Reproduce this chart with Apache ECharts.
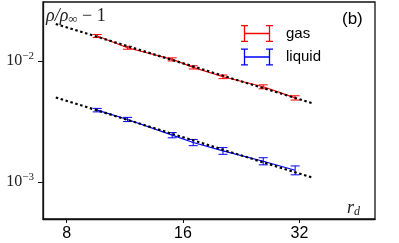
<!DOCTYPE html>
<html><head><meta charset="utf-8">
<script src="https://cdn.jsdelivr.net/npm/echarts@6/dist/echarts.min.js"></script>
<style>html,body{margin:0;padding:0;background:#fff}#c{width:399px;height:243px}</style>
</head><body><div id="c"></div>
<script>
const rd = [9.6, 11.5, 15, 17, 20.3, 25.8, 31.2];
const gasVals = [0.0160, 0.0128, 0.01027, 0.00882, 0.00737, 0.00610, 0.00494];
const gasErr = [0.00045, 0.00035, 0.0003, 0.00027, 0.00025, 0.00023, 0.0002];
const liqVals = [0.003914, 0.003279, 0.002432, 0.002116, 0.001804, 0.001483, 0.001249];
const liqErr = [0.00013, 0.00013, 0.00012, 0.000125, 0.000115, 0.0001, 0.000105];
const fitX = [7.5, 34.7];
const gasFit = [0.0201, 0.00444];
const liqFit = [0.00498, 0.00108];
const xTicks = [8, 16, 32];
const yTicks = [0.001, 0.01];

const chart = echarts.init(document.getElementById('c'), null, {renderer: 'canvas'});
const pts = (xs, ys) => xs.map((x, i) => [x, ys[i]]);
const errData = (vals, errs) => rd.map((x, i) => [x, vals[i], vals[i] - errs[i], vals[i] + errs[i]]);
function errSeries(name, color, vals, errs) {
  return {
    name, type: 'custom', z: 3,
    data: errData(vals, errs),
    encode: {x: 0, y: [1, 2, 3]},
    renderItem(params, api) {
      const x = api.value(0);
      const lo = api.coord([x, api.value(2)]);
      const hi = api.coord([x, api.value(3)]);
      const hw = 4.5;
      const st = {stroke: color, lineWidth: 1};
      return {type: 'group', children: [
        {type: 'line', shape: {x1: lo[0], y1: lo[1], x2: hi[0], y2: hi[1]}, style: st},
        {type: 'line', shape: {x1: lo[0] - hw, y1: lo[1], x2: lo[0] + hw, y2: lo[1]}, style: st},
        {type: 'line', shape: {x1: hi[0] - hw, y1: hi[1], x2: hi[0] + hw, y2: hi[1]}, style: st}
      ]};
    }
  };
}
function lineSeries(name, color, vals) {
  return {name, type: 'line', data: pts(rd, vals), symbol: 'none', z: 3,
    lineStyle: {color, width: 1.1}, itemStyle: {color}};
}
function fitSeries(vals) {
  return {type: 'line', data: pts(fitX, vals), symbol: 'none', z: 5, silent: true,
    lineStyle: {color: '#000', width: 2.2, type: [2.5, 2.6]}};
}
const icon = 'path://M0,0h7v1.3h-7Z M0,15.7h7v1.3h-7Z M2.85,0h1.3v17h-1.3Z M25,0h7v1.3h-7Z M25,15.7h7v1.3h-7Z M27.85,0h1.3v17h-1.3Z M3.5,7.85h25v1.3h-25Z';

chart.setOption({
  animation: false,
  grid: {left: 43, right: 24, top: 2, bottom: 24, show: true, borderColor: '#111', borderWidth: 1.3},
  xAxis: {
    type: 'log', logBase: 2, min: 6.95, max: 50.2,
    axisLine: {show: true, lineStyle: {color: '#111', width: 1.3}},
    axisTick: {show: true, length: 4, customValues: xTicks, lineStyle: {color: '#111', width: 1}},
    axisLabel: {customValues: xTicks, margin: 7, color: '#000', fontSize: 16, fontFamily: 'Liberation Sans'},
    splitLine: {show: false}, minorTick: {show: false}
  },
  yAxis: {
    type: 'log', logBase: 10, min: 0.000494, max: 0.03055,
    axisLine: {show: true, lineStyle: {color: '#111', width: 1.3}},
    axisTick: {show: true, length: 5, customValues: yTicks, lineStyle: {color: '#111', width: 1}},
    axisLabel: {
      customValues: yTicks, margin: 9, color: '#000',
      formatter: v => '{b|10}{s|−' + Math.round(-Math.log10(v)) + '}',
      rich: {
        b: {fontSize: 16, fontFamily: 'Liberation Serif', color: '#222'},
        s: {fontSize: 11, fontFamily: 'Liberation Serif', color: '#222', padding: [0, 0, 9, 0]}
      }
    },
    splitLine: {show: false}, minorTick: {show: false}
  },
  legend: {
    orient: 'vertical', left: 236, top: 20, itemWidth: 32, itemHeight: 17, itemGap: 6.5,
    textStyle: {fontSize: 15, fontFamily: 'Liberation Sans', color: '#000', padding: [0, 0, 0, 8]},
    data: [
      {name: 'gas', icon, itemStyle: {color: '#ff0000', borderWidth: 0}},
      {name: 'liquid', icon, itemStyle: {color: '#0000ff', borderWidth: 0}}
    ]
  },
  graphic: [
    {type: 'text', left: 46, top: 7, style: {
      text: '{i|ρ/ρ}{s|∞}{n| − 1}',
      rich: {
        i: {fontSize: 18, fontFamily: 'Liberation Serif', fontStyle: 'italic', fill: '#222'},
        s: {fontSize: 13, fontFamily: 'Liberation Serif', fill: '#222', padding: [7, 0, 0, 0]},
        n: {fontSize: 18, fontFamily: 'Liberation Serif', fill: '#222'}
      }}},
    {type: 'text', left: 342, top: 11, style: {text: '(b)', fontSize: 17, fontFamily: 'Liberation Sans', fill: '#000'}},
    {type: 'text', left: 347, top: 199, style: {
      text: '{i|r}{s|d}',
      rich: {
        i: {fontSize: 18, fontFamily: 'Liberation Serif', fontStyle: 'italic', fill: '#222'},
        s: {fontSize: 12, fontFamily: 'Liberation Serif', fontStyle: 'italic', fill: '#222', padding: [7, 0, 0, 0]}
      }}}
  ],
  series: [
    lineSeries('gas', '#ff0000', gasVals),
    errSeries('gas', '#ff0000', gasVals, gasErr),
    lineSeries('liquid', '#0000ff', liqVals),
    errSeries('liquid', '#0000ff', liqVals, liqErr),
    fitSeries(gasFit),
    fitSeries(liqFit)
  ]
});
</script></body></html>
